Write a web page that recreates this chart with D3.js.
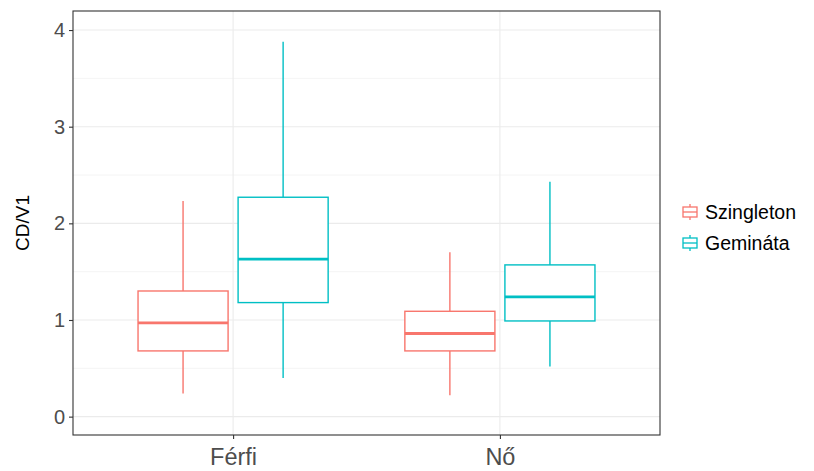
<!DOCTYPE html>
<html>
<head>
<meta charset="utf-8">
<script src="https://cdn.jsdelivr.net/npm/d3@7/dist/d3.min.js"></script>
<style>
  html, body { margin: 0; padding: 0; background: #fff; }
  svg { display: block; font-family: "Liberation Sans", Arial, sans-serif; }
</style>
</head>
<body>
<svg id="chart" width="814" height="471"></svg>
<script>
// Categories and groups
const sexes = ["Férfi", "Nő"];
const groups = ["Szingleton", "Gemináta"];
const groupColors = ["#F8766D", "#00BFC4"];

// Box statistics per sex (order: Szingleton, Gemináta)
const lowerWhisker = [[0.24, 0.40], [0.22, 0.52]];
const q1 =           [[0.68, 1.18], [0.68, 0.99]];
const median =       [[0.97, 1.63], [0.86, 1.24]];
const q3 =           [[1.30, 2.27], [1.09, 1.57]];
const upperWhisker = [[2.23, 3.88], [1.70, 2.43]];

const yTicks = [0, 1, 2, 3, 4];
const yMinorTicks = [0.5, 1.5, 2.5, 3.5];
const yExtent = [-0.19, 4.197];

const svg = d3.select("#chart");
const panel = { left: 73, right: 660, top: 11, bottom: 435 };

// Discrete x positions, padded 0.6 of a step on each side
const x = d3.scalePoint().domain(sexes)
  .range([panel.left, panel.right]).padding(0.6);
const y = d3.scaleLinear().domain(yExtent).range([panel.bottom, panel.top]);

const step = x.step();
const dodge = d3.scaleBand().domain(groups).range([-0.375 * step, 0.375 * step]);
const boxW = 0.3375 * step;

const g = svg.append("g");

// Grid
g.selectAll(".minor").data(yMinorTicks).join("line")
  .attr("x1", panel.left).attr("x2", panel.right)
  .attr("y1", d => y(d)).attr("y2", d => y(d))
  .attr("stroke", "#EBEBEB").attr("stroke-width", 0.55);
g.selectAll(".major").data(yTicks).join("line")
  .attr("x1", panel.left).attr("x2", panel.right)
  .attr("y1", d => y(d)).attr("y2", d => y(d))
  .attr("stroke", "#EBEBEB").attr("stroke-width", 1.1);
g.selectAll(".vmajor").data(sexes).join("line")
  .attr("x1", d => x(d)).attr("x2", d => x(d))
  .attr("y1", panel.top).attr("y2", panel.bottom)
  .attr("stroke", "#EBEBEB").attr("stroke-width", 1.1);

// Boxes
const boxes = [];
sexes.forEach((s, i) => groups.forEach((gr, j) => {
  boxes.push({ s, gr, j,
    lo: lowerWhisker[i][j], q1: q1[i][j], med: median[i][j],
    q3: q3[i][j], hi: upperWhisker[i][j] });
}));

const bx = g.selectAll(".box").data(boxes).join("g")
  .attr("transform", d => `translate(${x(d.s) + dodge(d.gr) + dodge.bandwidth() / 2},0)`);
bx.append("line").attr("x1", 0).attr("x2", 0)
  .attr("y1", d => y(d.hi)).attr("y2", d => y(d.q3))
  .attr("stroke", d => groupColors[d.j]).attr("stroke-width", 1.4);
bx.append("line").attr("x1", 0).attr("x2", 0)
  .attr("y1", d => y(d.q1)).attr("y2", d => y(d.lo))
  .attr("stroke", d => groupColors[d.j]).attr("stroke-width", 1.4);
bx.append("rect")
  .attr("x", -boxW / 2).attr("width", boxW)
  .attr("y", d => y(d.q3)).attr("height", d => y(d.q1) - y(d.q3))
  .attr("fill", "#fff").attr("stroke", d => groupColors[d.j]).attr("stroke-width", 1.4);
bx.append("line").attr("x1", -boxW / 2).attr("x2", boxW / 2)
  .attr("y1", d => y(d.med)).attr("y2", d => y(d.med))
  .attr("stroke", d => groupColors[d.j]).attr("stroke-width", 2.8);

// Panel border
g.append("rect").attr("x", panel.left).attr("y", panel.top)
  .attr("width", panel.right - panel.left).attr("height", panel.bottom - panel.top)
  .attr("fill", "none").attr("stroke", "#333333").attr("stroke-width", 1.1);

// Axes
const yAxis = d3.axisLeft(y).tickValues(yTicks).tickSize(4).tickPadding(4).tickFormat(d3.format("d"));
const ya = svg.append("g").attr("transform", `translate(${panel.left},0)`).call(yAxis);
ya.select(".domain").remove();
ya.selectAll(".tick line").attr("stroke", "#333333").attr("stroke-width", 1.1);
ya.selectAll(".tick text").attr("fill", "#4D4D4D").attr("font-size", 20)
  .attr("font-family", "Liberation Sans, Arial, sans-serif");

const xAxis = d3.axisBottom(x).tickSize(4).tickPadding(9);
const xa = svg.append("g").attr("transform", `translate(0,${panel.bottom})`).call(xAxis);
xa.select(".domain").remove();
xa.selectAll(".tick line").attr("stroke", "#333333").attr("stroke-width", 1.1);
xa.selectAll(".tick text").attr("fill", "#4D4D4D").attr("font-size", 23.5)
  .attr("font-family", "Liberation Sans, Arial, sans-serif");

// Y axis title
svg.append("text")
  .attr("transform", `translate(29,${(panel.top + panel.bottom) / 2}) rotate(-90)`)
  .attr("text-anchor", "middle").attr("font-size", 19).attr("fill", "#000")
  .text("CD/V1");

// Legend
const legend = svg.append("g").attr("transform", "translate(683,212)");
const item = legend.selectAll(".item").data(groups).join("g")
  .attr("transform", (d, i) => `translate(0,${i * 31})`);
item.append("line").attr("x1", 7).attr("x2", 7).attr("y1", -8).attr("y2", 8)
  .attr("stroke", (d, i) => groupColors[i]).attr("stroke-width", 1.3);
item.append("rect").attr("x", 0).attr("y", -5).attr("width", 14).attr("height", 10)
  .attr("fill", "#fff").attr("stroke", (d, i) => groupColors[i]).attr("stroke-width", 1.3);
item.append("line").attr("x1", 0).attr("x2", 14).attr("y1", 0).attr("y2", 0)
  .attr("stroke", (d, i) => groupColors[i]).attr("stroke-width", 1.3);
item.append("text").attr("x", 22).attr("y", 0).attr("dy", "0.35em")
  .attr("font-size", 19.5).attr("fill", "#000").text(d => d);
</script>
</body>
</html>
